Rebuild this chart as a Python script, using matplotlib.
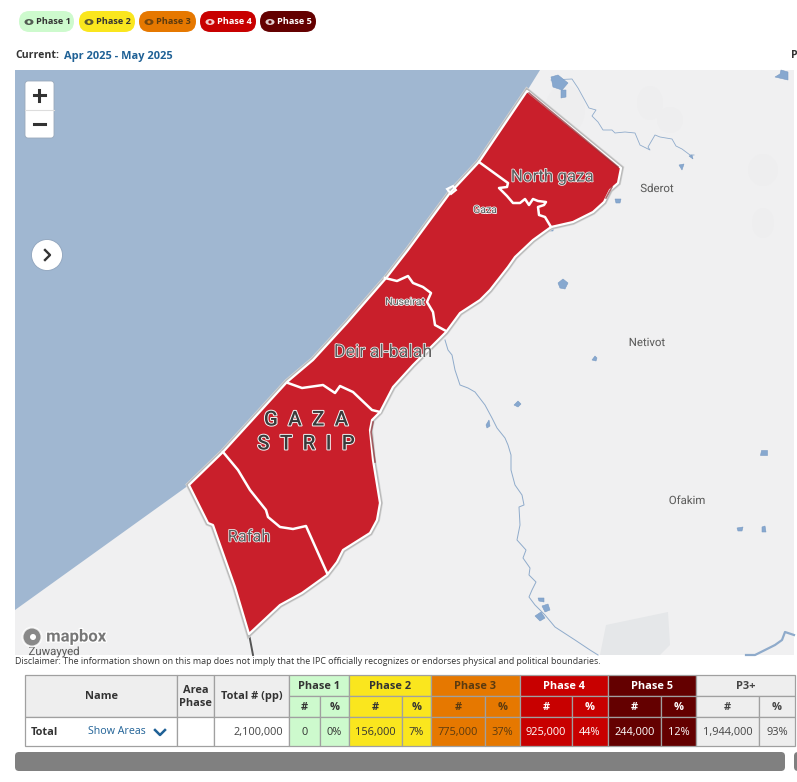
import matplotlib
matplotlib.use("Agg")
import matplotlib.pyplot as plt
import matplotlib.patches as patches
import matplotlib.patheffects as pe

# table data
phases = ["Phase 1", "Phase 2", "Phase 3", "Phase 4", "Phase 5", "P3+"]
phase_colors = ["#cdfacd", "#fae61e", "#e67800", "#c80000", "#640000", "#eeeeee"]
phase_text = ["#333333", "#333333", "#5a3a10", "#ffffff", "#ffffff", "#444444"]
counts = ["0", "156,000", "775,000", "925,000", "244,000", "1,944,000"]
percents = ["0%", "7%", "37%", "44%", "12%", "93%"]
total_pop = "2,100,000"
col_edges = [289, 320, 349, 402, 431, 485, 520, 572, 608, 661, 696, 759, 795]

# map shapes, traced in picture pixels
gaza_outline = [(527, 91), (621, 168), (618, 183), (610, 190), (604, 202), (593, 212), (573, 222),
                (551, 227), (533, 240), (515, 257), (508, 267), (490, 290), (480, 300), (460, 313),
                (446, 332), (413, 365), (393, 387), (380, 412), (372, 420), (370, 430), (373, 460),
                (380, 503), (377, 520), (370, 533), (343, 550), (337, 562), (327, 575), (302, 593),
                (280, 605), (249, 634), (235, 587), (213, 525), (208, 523), (189, 485), (223, 452),
                (287, 382), (313, 360), (347, 323), (387, 277), (408, 250), (450, 193), (479, 162)]
north_gaza_line = [(479, 162), (508, 183), (507, 187), (499, 188), (507, 196), (513, 203), (520, 203),
                   (525, 199), (529, 205), (533, 199), (538, 201), (546, 202), (544, 205), (538, 207),
                   (539, 215), (545, 217), (551, 227)]
nuseirat_line = [(385, 278), (397, 281), (408, 276), (413, 283), (423, 287), (431, 293), (427, 302),
                 (433, 312), (435, 325), (446, 331)]
deir_line = [(288, 383), (302, 388), (323, 385), (335, 393), (340, 386), (353, 392), (372, 410), (380, 412)]
rafah_line = [(223, 452), (238, 470), (250, 490), (266, 510), (268, 517), (280, 527), (293, 529),
              (306, 526), (327, 573)]
dark_edges = [[(529, 93), (618, 167)], [(373, 422), (371, 432), (375, 462)], [(612, 187), (606, 198)]]
sea = [(15, 70), (540, 70), (527, 91), (479, 162), (450, 193), (408, 250), (387, 277), (347, 323),
       (313, 360), (287, 382), (223, 452), (189, 485), (15, 610)]
river_north = [(551, 80), (572, 79), (578, 88), (589, 108), (596, 110), (592, 116), (598, 122), (603, 130),
               (612, 130), (615, 133), (625, 132), (635, 133), (640, 145), (650, 150), (648, 147), (655, 135),
               (660, 137), (672, 139), (676, 146), (682, 149), (690, 155), (694, 155)]
river_south = [(445, 340), (448, 350), (452, 355), (455, 370), (460, 385), (468, 388), (475, 392), (485, 405),
               (492, 418), (497, 428), (505, 438), (508, 445), (511, 455), (511, 470), (515, 485), (522, 495),
               (524, 505), (519, 507), (520, 525), (517, 540), (526, 550), (523, 558), (530, 568), (529, 575),
               (536, 582), (532, 590), (529, 597), (535, 605), (545, 615), (555, 627), (575, 640), (590, 650),
               (598, 655)]
stream_se = [(746, 655), (755, 655), (765, 650), (775, 645), (782, 640), (785, 632), (794, 635)]
ponds = [[(551, 77), (558, 75), (568, 83), (562, 90), (553, 87)], [(561, 90), (566, 90), (566, 97), (561, 98)],
         [(781, 70), (788, 72), (788, 80), (775, 77), (780, 74)], [(615, 199), (621, 199), (620, 203), (616, 203)],
         [(679, 165), (684, 164), (682, 170)], [(689, 156), (692, 155), (693, 159)], [(558, 283), (563, 279), (568, 283), (565, 289), (560, 288)],
         [(595, 356), (597, 358), (596, 361), (592, 360)], [(514, 405), (518, 401), (521, 404), (518, 407)],
         [(486, 425), (489, 420), (490, 426), (487, 428)], [(761, 450), (767, 450), (767, 455), (760, 455)],
         [(737, 528), (743, 527), (742, 531), (738, 531)], [(762, 527), (765, 526), (766, 532), (762, 532)],
         [(538, 598), (544, 598), (544, 602), (539, 601)], [(542, 606), (548, 604), (550, 610), (545, 612)],
         [(535, 616), (541, 612), (545, 618), (540, 621)], [(548, 226), (554, 225), (553, 231), (549, 231)]]
terrain = [(650, 103, 26, 34), (670, 120, 26, 26), (763, 170, 30, 32), (763, 223, 22, 30), (565, 110, 40, 50)]

ui_font = "Open Sans"
map_font = "Roboto"

fig = plt.figure(figsize=(7.97, 7.82), dpi=100)
ax = fig.add_axes([0, 0, 1, 1])
ax.set_xlim(0, 797)
ax.set_ylim(782, 0)
ax.axis("off")

# map background
map_rect = patches.Rectangle((15, 70), 779, 585, facecolor="#f0f0f1", edgecolor="none", zorder=1)
ax.add_patch(map_rect)
for x, y, w, h in terrain:
    ax.add_patch(patches.Ellipse((x, y), w, h, facecolor="#eeeeef", edgecolor="none", zorder=1.05))
ax.add_patch(patches.Polygon([(600, 655), (606, 625), (668, 612), (670, 645), (660, 655)],
                             facecolor="#e5e7e9", edgecolor="none", zorder=1.1))
ax.add_patch(patches.Polygon(sea, facecolor="#a0b7d1", edgecolor="none", zorder=2))

for line, width in [(river_north, 0.6), (river_south, 0.7), (stream_se, 1.6)]:
    ax.plot(*zip(*line), color="#8fabcb", lw=width, zorder=2.5)
for pond in ponds:
    ax.add_patch(patches.Polygon(pond, facecolor="#87a8cf", edgecolor="#7b9cc4", lw=0.4, zorder=2.6))

# border line below Rafah
ax.plot([249, 253], [634, 655], color="#555555", lw=1.4, zorder=2.7)

# gaza shape with soft shadow
shadow = patches.Polygon(gaza_outline, closed=True, facecolor="none", edgecolor="#b8b8b8", lw=3.4, zorder=3)
shadow.set_path_effects([pe.withStroke(linewidth=4.4, foreground="#d6d6d6")])
ax.add_patch(shadow)
ax.add_patch(patches.Polygon(gaza_outline, closed=True, facecolor="#c91f2b", edgecolor="white", lw=1.6,
                             joinstyle="round", zorder=4))
for line in dark_edges:
    ax.plot(*zip(*line), color="#8e2a30", lw=1.2, alpha=0.7, zorder=4.5)
for line in [north_gaza_line, nuseirat_line, deir_line, rafah_line]:
    ax.plot(*zip(*line), color="white", lw=1.8, solid_joinstyle="round", zorder=5)
ax.add_patch(patches.Polygon([(447, 189), (453, 186), (456, 190), (451, 194)], facecolor="none",
                             edgecolor="white", lw=1.5, zorder=5))


def map_label(x, y, text, size, halo="#f4f4f4", color="#5c5c5c", stroke=1.1, **kw):
    t = ax.text(x, y, text, fontsize=size, color=color, family=map_font, ha="center", va="center", zorder=7, **kw)
    t.set_path_effects([pe.withStroke(linewidth=stroke, foreground=halo)])
    return t


map_label(552, 177, "North gaza", 12.2)
map_label(485, 210, "Gaza", 7.6)
map_label(405, 302, "Nuseirat", 7.6)
map_label(383, 352, "Deir al-balah", 12.8)
map_label(249, 537, "Rafah", 11.8)
map_label(306, 420, "G  A  Z  A", 14.8, color="#3a3a3a", fontweight="medium", stroke=1.4)
map_label(306, 444, "S  T  R  I  P", 14.8, color="#3a3a3a", fontweight="medium", stroke=1.4)
map_label(657, 189, "Sderot", 8.2, stroke=0.6)
map_label(647, 343, "Netivot", 8.2, stroke=0.6)
map_label(687, 501, "Ofakim", 8.2, stroke=0.6)
t = map_label(54, 652, "Zuwayyed", 8.2, stroke=0.6)
t.set_clip_path(map_rect)

# zoom box and arrow button
ax.add_patch(patches.FancyBboxPatch((25, 81), 29, 57, boxstyle="round,pad=0,rounding_size=3", facecolor="white",
                                    edgecolor="#9aa9bb", lw=0.6, zorder=8))
ax.plot([25, 54], [109.5, 109.5], color="#dddddd", lw=0.8, zorder=9)
ax.plot([34, 45], [95, 95], color="#333333", lw=2.2, zorder=9)
ax.plot([39.5, 39.5], [89.5, 100.5], color="#333333", lw=2.2, zorder=9)
ax.plot([34, 45], [124, 124], color="#333333", lw=2.2, zorder=9)
ax.add_patch(patches.Circle((47, 255), 15.5, facecolor="white", edgecolor="#8ea3bc", lw=0.6, zorder=8))
ax.plot([45, 50, 45], [250, 255, 260], color="#333333", lw=1.7, zorder=9)

# mapbox logo
ax.add_patch(patches.Circle((32, 637), 9.5, facecolor="#777777", edgecolor="white", lw=1.4, alpha=0.85, zorder=8))
ax.add_patch(patches.Circle((33, 637), 3, facecolor="white", edgecolor="none", zorder=9))
logo = ax.text(76, 637, "mapbox", fontsize=12, fontweight="bold", family=map_font, color="#777777", ha="center",
               va="center", zorder=9)
logo.set_path_effects([pe.withStroke(linewidth=1.8, foreground="white")])

# phase legend pills
pill_left = [19, 79, 139, 200, 260]
pill_width = [55, 56, 57, 56, 56]
for left, width, name, color, txt in zip(pill_left, pill_width, phases, phase_colors, phase_text):
    ax.add_patch(patches.FancyBboxPatch((left, 11), width, 21, boxstyle="round,pad=0,rounding_size=10.5",
                                        facecolor=color, edgecolor="none", zorder=2))
    ax.add_patch(patches.Ellipse((left + 10, 22), 9, 6, facecolor=txt, edgecolor="none", alpha=0.8, zorder=3))
    ax.add_patch(patches.Circle((left + 10, 22), 1.6, facecolor=color, edgecolor="none", zorder=4))
    ax.text(left + 17, 21, name, fontsize=6.6, fontweight="bold", family=ui_font, color=txt, va="center", zorder=4)

# current period
ax.text(15, 56, "Current:", fontsize=7.6, fontweight="bold", family=ui_font, color="#333333", va="center")
ax.text(64, 56, "Apr 2025 - May 2025", fontsize=7.9, fontweight="bold", family=ui_font, color="#1f6196", va="center")
ax.text(791, 56, "P", fontsize=7.6, fontweight="bold", family=ui_font, color="#333333", va="center")

ax.text(15, 662, "Disclaimer: The information shown on this map does not imply that the IPC officially recognizes "
        "or endorses physical and political boundaries.", fontsize=6.42, family=ui_font, color="#333333", va="center")

# table
y0, y1, y2, y3 = 675, 696, 717, 746
grid = "#a0a0a0"


def cell(x0, x1, top, bottom, color, text="", txt="#333333", bold=True, ha="center", pad=0):
    ax.add_patch(patches.Rectangle((x0, top), x1 - x0, bottom - top, facecolor=color, edgecolor=grid, lw=0.9, zorder=2))
    if text:
        x = {"center": (x0 + x1) / 2, "right": x1 - pad, "left": x0 + pad}[ha]
        ax.text(x, (top + bottom) / 2 + 0.8, text, fontsize=7.9, fontweight="bold" if bold else "normal",
                family=ui_font, color=txt, ha=ha, va="center", linespacing=1.3, zorder=3)


cell(25.5, 177, y0, y2, "#eeeeee", "Name")
cell(177, 214, y0, y2, "#eeeeee", "Area\nPhase")
cell(214, 289, y0, y2, "#eeeeee", "Total # (pp)")
cell(25.5, 177, y2, y3, "white", "Total", ha="left", pad=5.5)
cell(177, 214, y2, y3, "white")
cell(214, 289, y2, y3, "white", total_pop, txt="#444444", bold=False, ha="right", pad=6)
ax.text(88, 732, "Show Areas", fontsize=7.7, family=ui_font, color="#1f6196", va="center", zorder=3)
ax.plot([155, 160, 165], [730, 735, 730], color="#1f6196", lw=1.8, zorder=3)

for i, name in enumerate(phases):
    left, mid, right = col_edges[2 * i], col_edges[2 * i + 1], col_edges[2 * i + 2]
    color, txt = phase_colors[i], phase_text[i]
    cell(left, right, y0, y1, color, name, txt)
    cell(left, mid, y1, y2, color, "#", txt)
    cell(mid, right, y1, y2, color, "%", txt)
    cell(left, mid, y2, y3, color, counts[i], txt, bold=False)
    cell(mid, right, y2, y3, color, percents[i], txt, bold=False)

# scrollbar
ax.add_patch(patches.FancyBboxPatch((15, 752), 770, 19, boxstyle="round,pad=0,rounding_size=4", facecolor="#808080",
                                    edgecolor="none", zorder=2))
ax.add_patch(patches.FancyBboxPatch((794, 752), 10, 19, boxstyle="round,pad=0,rounding_size=4", facecolor="#808080",
                                    edgecolor="none", zorder=2))

fig.savefig("out.png", dpi=100)
